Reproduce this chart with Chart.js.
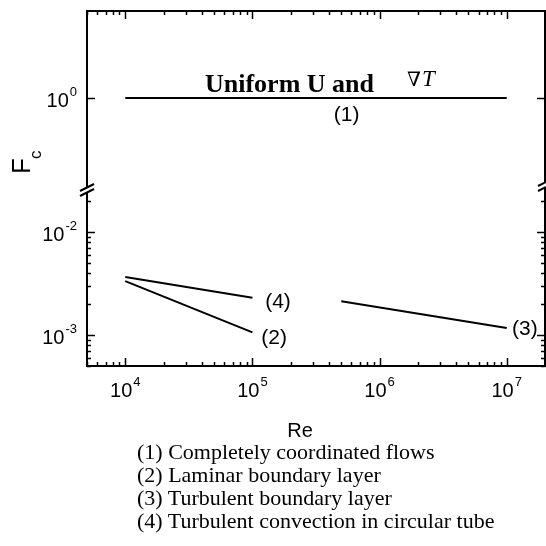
<!DOCTYPE html>
<html>
<head>
<meta charset="utf-8">
<script src="https://cdn.jsdelivr.net/npm/chart.js@4.4.0/dist/chart.umd.min.js"></script>
<style>
html, body { margin: 0; padding: 0; background: #fff; }
#wrap { position: relative; width: 546px; height: 546px; }
#caption {
  position: absolute; left: 137px; top: 440px;
  font-family: "Liberation Serif", "Times New Roman", serif;
  font-size: 22px; line-height: 23px; color: #000; white-space: nowrap;
}
</style>
</head>
<body>
<div id="wrap">
  <canvas id="fcChart" width="546" height="546"></canvas>
  <div id="caption">
    (1) Completely coordinated flows<br>
    (2) Laminar boundary layer<br>
    (3) Turbulent boundary layer<br>
    (4) Turbulent convection in circular tube
  </div>
</div>
<script>
// Re / Fc values
const reUniform = [1e4, 1e7];
const fcUniform = [1, 1];
const reLaminar = [1e4, 1e5];
const fcLaminar = [3.34e-3, 1.06e-3];
const reTurbBL = [5e5, 1e7];
const fcTurbBL = [2.13e-3, 1.17e-3];
const reTube = [1e4, 1e5];
const fcTube = [3.65e-3, 2.3e-3];

// tick labels (powers of ten)
const xTickExp = [4, 5, 6, 7];
const yUpTickExp = [0];
const yLowTickExp = [-2, -3];

// curve numbers, anchored in data units
const noteText = ['(1)', '(2)', '(3)', '(4)'];
const noteRe = [5.5e5, 1.48e5, 1.39e7, 1.59e5];
const noteFc = [0.684, 9.35e-4, 1.14e-3, 2.09e-3];
const noteAxis = ['yUp', 'yLow', 'yLow', 'yLow'];

const pts = (xs, ys) => xs.map((x, i) => ({ x: x, y: ys[i] }));

function drawPow(ctx, exp, x, y, align) {
  ctx.font = '20px "Liberation Sans", Arial, sans-serif';
  const base = ctx.measureText('10').width;
  ctx.font = '13px "Liberation Sans", Arial, sans-serif';
  const sup = ctx.measureText(String(exp)).width;
  const w = base + 1 + sup;
  let left = x;
  if (align === 'center') left = x - w / 2;
  if (align === 'right') left = x - w;
  ctx.textAlign = 'left';
  ctx.textBaseline = 'alphabetic';
  ctx.font = '20px "Liberation Sans", Arial, sans-serif';
  ctx.fillText('10', left, y);
  ctx.font = '13px "Liberation Sans", Arial, sans-serif';
  ctx.fillText(String(exp), left + base + 1, y - 11);
}

function minorValues(min, max) {
  const out = [];
  for (let e = Math.floor(Math.log10(min)); e <= Math.ceil(Math.log10(max)); e++) {
    for (let m = 1; m <= 9; m++) {
      const v = m * Math.pow(10, e);
      if (v >= min * 0.999 && v <= max * 1.001) out.push({ v: v, major: m === 1 });
    }
  }
  return out;
}

const axisFrame = {
  id: 'axisFrame',
  afterDatasetsDraw(chart) {
    const { ctx, chartArea: a, scales } = chart;
    const sx = scales.x, up = scales.yUp, low = scales.yLow;
    ctx.save();
    ctx.strokeStyle = '#000';
    ctx.fillStyle = '#000';
    ctx.lineWidth = 2;
    ctx.strokeRect(a.left, a.top, a.right - a.left, a.bottom - a.top);

    ctx.lineWidth = 1.5;
    ctx.beginPath();
    // x ticks, bottom and top, pointing inward
    minorValues(sx.min, sx.max).forEach(t => {
      const px = Math.round(sx.getPixelForValue(t.v)) + 0.5;
      const len = t.major ? 8 : 4;
      ctx.moveTo(px, a.bottom); ctx.lineTo(px, a.bottom - len);
      ctx.moveTo(px, a.top); ctx.lineTo(px, a.top + len);
    });
    // lower y ticks
    minorValues(low.min, low.max).forEach(t => {
      const py = Math.round(low.getPixelForValue(t.v)) + 0.5;
      const len = t.major ? 8 : 4;
      ctx.moveTo(a.left, py); ctx.lineTo(a.left + len, py);
      ctx.moveTo(a.right, py); ctx.lineTo(a.right - len, py);
    });
    // upper y: major tick only
    yUpTickExp.forEach(e => {
      const py = Math.round(up.getPixelForValue(Math.pow(10, e))) + 0.5;
      ctx.moveTo(a.left, py); ctx.lineTo(a.left + 8, py);
      ctx.moveTo(a.right, py); ctx.lineTo(a.right - 8, py);
    });
    ctx.stroke();

    // axis break marks
    const yb = up.bottom;
    [[a.left, yb], [a.right, yb - 5]].forEach(([xb, y0]) => {
      ctx.fillStyle = '#fff';
      ctx.beginPath();
      ctx.moveTo(xb - 7, y0 + 1); ctx.lineTo(xb + 7, y0 - 6);
      ctx.lineTo(xb + 7, y0 - 1); ctx.lineTo(xb - 7, y0 + 6);
      ctx.closePath(); ctx.fill();
      ctx.lineWidth = 2;
      ctx.beginPath();
      ctx.moveTo(xb - 7, y0 + 1); ctx.lineTo(xb + 7, y0 - 6);
      ctx.moveTo(xb - 7, y0 + 6); ctx.lineTo(xb + 7, y0 - 1);
      ctx.stroke();
    });

    // tick labels
    ctx.fillStyle = '#000';
    xTickExp.forEach(e => drawPow(ctx, e, sx.getPixelForValue(Math.pow(10, e)), a.bottom + 31, 'center'));
    yUpTickExp.forEach(e => drawPow(ctx, e, a.left - 10, up.getPixelForValue(Math.pow(10, e)) + 9, 'right'));
    yLowTickExp.forEach(e => drawPow(ctx, e, a.left - 10, low.getPixelForValue(Math.pow(10, e)) + 9, 'right'));

    // axis titles
    ctx.font = '20px "Liberation Sans", Arial, sans-serif';
    ctx.textAlign = 'center';
    ctx.fillText('Re', 300, 437);
    ctx.save();
    ctx.translate(30, 174);
    ctx.rotate(-Math.PI / 2);
    ctx.textAlign = 'left';
    ctx.font = '26px "Liberation Sans", Arial, sans-serif';
    ctx.fillText('F', 0, 0);
    ctx.font = '17px "Liberation Sans", Arial, sans-serif';
    ctx.fillText('c', 15, 11);
    ctx.restore();

    // curve numbers
    ctx.font = '21px "Liberation Sans", Arial, sans-serif';
    ctx.textAlign = 'center';
    ctx.textBaseline = 'middle';
    noteText.forEach((t, i) => {
      const s = scales[noteAxis[i]];
      ctx.fillText(t, sx.getPixelForValue(noteRe[i]), s.getPixelForValue(noteFc[i]));
    });

    // heading above curve (1)
    const y1 = up.getPixelForValue(1);
    ctx.textAlign = 'left';
    ctx.textBaseline = 'alphabetic';
    ctx.font = 'bold 26px "Liberation Serif", "Times New Roman", serif';
    ctx.fillText('Uniform U and', 205, y1 - 6);
    ctx.font = '20px "DejaVu Serif", "Liberation Serif", serif';
    ctx.fillText('\u2207', 407, y1 - 12);
    ctx.font = 'italic 23px "Liberation Serif", "Times New Roman", serif';
    ctx.fillText('T', 422, y1 - 12);
    ctx.restore();
  }
};

const line = (data, axis) => ({
  data: data, yAxisID: axis,
  borderColor: '#000', borderWidth: 2,
  pointRadius: 0, fill: false, tension: 0
});

new Chart(document.getElementById('fcChart').getContext('2d'), {
  type: 'line',
  data: {
    datasets: [
      line(pts(reUniform, fcUniform), 'yUp'),
      line(pts(reLaminar, fcLaminar), 'yLow'),
      line(pts(reTurbBL, fcTurbBL), 'yLow'),
      line(pts(reTube, fcTube), 'yLow')
    ]
  },
  options: {
    responsive: false,
    animation: false,
    layout: { padding: { left: 87, right: 1, top: 11, bottom: 180 } },
    plugins: { legend: { display: false }, tooltip: { enabled: false } },
    scales: {
      x: {
        type: 'logarithmic', min: 5e3, max: 2e7,
        ticks: { display: false }, grid: { display: false }, border: { display: false },
        afterFit: s => { s.height = 0; }
      },
      yLow: {
        type: 'logarithmic', position: 'left', stack: 'fc', stackWeight: 176,
        min: 5.0e-4, max: 0.0256,
        ticks: { display: false }, grid: { display: false }, border: { display: false },
        afterFit: s => { s.width = 0; }
      },
      yUp: {
        type: 'logarithmic', position: 'left', stack: 'fc', stackWeight: 179,
        min: 0.128, max: 7,
        ticks: { display: false }, grid: { display: false }, border: { display: false },
        afterFit: s => { s.width = 0; }
      }
    }
  },
  plugins: [axisFrame]
});
</script>
</body>
</html>
